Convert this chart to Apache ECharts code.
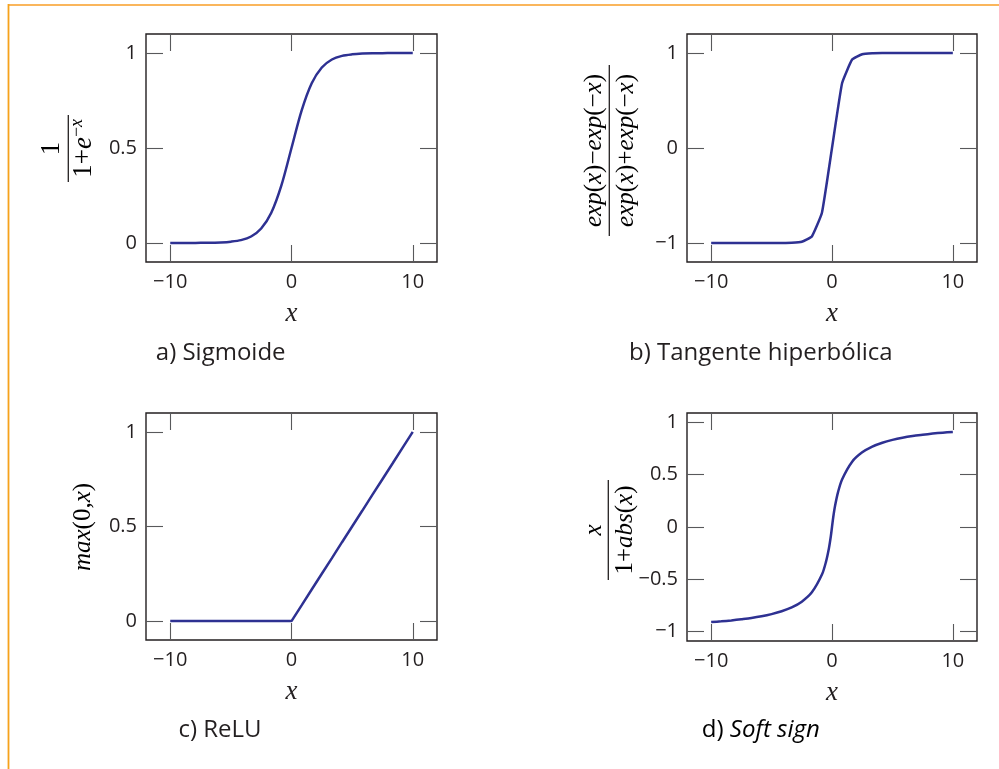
<!DOCTYPE html>
<html>
<head>
<meta charset="utf-8">
<script src="https://cdn.jsdelivr.net/npm/echarts@6/dist/echarts.min.js"></script>
<style>
html,body{margin:0;padding:0;background:#fff;}
#main{width:999px;height:769px;}
</style>
</head>
<body>
<div id="main"></div>
<script>
// ---- data ----
const xSamples = [-10, -9.167, -8.333, -7.5, -6.667, -5.833, -5, -4.167, -3.333, -2.5, -1.667, -0.833, 0,
  0.833, 1.667, 2.5, 3.333, 4.167, 5, 5.833, 6.667, 7.5, 8.333, 9.167, 10];
const sigmoidValues = [0.000, 0.000, 0.000, 0.001, 0.001, 0.003, 0.007, 0.015, 0.034, 0.076, 0.159, 0.303, 0.5,
  0.697, 0.841, 0.924, 0.966, 0.985, 0.993, 0.997, 0.999, 0.999, 1.000, 1.000, 1.000];
const tanhValues = [-1.000, -1.000, -1.000, -1.000, -1.000, -1.000, -1.000, -0.999, -0.997, -0.987, -0.931, -0.682, 0,
  0.682, 0.931, 0.987, 0.997, 0.999, 1.000, 1.000, 1.000, 1.000, 1.000, 1.000, 1.000];
const reluValues = [0, 0, 0, 0, 0, 0, 0, 0, 0, 0, 0, 0, 0,
  0.083, 0.167, 0.25, 0.333, 0.417, 0.5, 0.583, 0.667, 0.75, 0.833, 0.917, 1.0];
const softsignX = [-10, -9.167, -8.333, -7.5, -6.667, -5.833, -5, -4.167, -3.333, -2.5, -1.667, -0.833, -0.5, -0.25, -0.1, 0,
  0.1, 0.25, 0.5, 0.833, 1.667, 2.5, 3.333, 4.167, 5, 5.833, 6.667, 7.5, 8.333, 9.167, 10];
const softsignValues = [-0.909, -0.902, -0.893, -0.882, -0.870, -0.854, -0.833, -0.806, -0.769, -0.714, -0.625, -0.455, -0.333, -0.2, -0.091, 0,
  0.091, 0.2, 0.333, 0.455, 0.625, 0.714, 0.769, 0.806, 0.833, 0.854, 0.870, 0.882, 0.893, 0.902, 0.909];

const xTicks = [-10, 0, 10];
const yTicksUnit = [0, 0.5, 1];
const yTicksSym = [-1, 0, 1];
const yTicksSoft = [-1, -0.5, 0, 0.5, 1];
const captions = ['a) Sigmoide', 'b) Tangente hiperbólica', 'c) ReLU', 'd) Soft sign'];

// ---- styling ----
const TEXT = '#231f20';
const FRAME = '#231f20';
const TICK = '#58595b';
const LINE = '#2e3192';
const SANS = '"Open Sans", "Noto Sans", sans-serif';
const SERIF = '"Liberation Serif", "DejaVu Serif", serif';

function pair(arrX, arrY) { return arrX.map((x, i) => [x, arrY[i]]); }
function fmt(v) { return String(v).replace('-', '\u2212'); }

const panels = [
  { grid: { left: 146, top: 34, width: 291, height: 228 }, ymin: -0.1, ymax: 1.1, yt: yTicksUnit, data: pair(xSamples, sigmoidValues), smooth: 0.3 },
  { grid: { left: 687, top: 34, width: 290, height: 228 }, ymin: -1.2, ymax: 1.2, yt: yTicksSym, data: pair(xSamples, tanhValues), smooth: 0.12 },
  { grid: { left: 146, top: 413, width: 291, height: 227 }, ymin: -0.1, ymax: 1.1, yt: yTicksUnit, data: pair(xSamples, reluValues), smooth: false },
  { grid: { left: 687, top: 413, width: 290, height: 228 }, ymin: -1.09, ymax: 1.09, yt: yTicksSoft, data: pair(softsignX, softsignValues), smooth: 0.3 }
];

const grids = [], xAxes = [], yAxes = [], series = [];
panels.forEach((p, i) => {
  grids.push(Object.assign({ show: true, borderColor: FRAME, borderWidth: 1.4, backgroundColor: 'transparent', containLabel: false }, p.grid));
  const tickStyle = { show: true, inside: true, length: 17, lineStyle: { color: TICK, width: 1.1 } };
  const noLine = { show: false, onZero: false };
  // bottom x axis
  xAxes.push({
    type: 'value', gridIndex: i, position: 'bottom', min: -12, max: 12,
    axisLine: noLine, splitLine: { show: false },
    axisTick: Object.assign({ customValues: xTicks }, tickStyle),
    axisLabel: { customValues: xTicks, formatter: fmt, color: TEXT, fontFamily: SANS, fontSize: 20, margin: 10 },
    name: 'x', nameLocation: 'middle', nameGap: 38,
    nameTextStyle: { fontFamily: SERIF, fontStyle: 'italic', fontSize: 27, color: TEXT }
  });
  // top x axis (mirror ticks)
  xAxes.push({
    type: 'value', gridIndex: i, position: 'top', min: -12, max: 12,
    axisLine: noLine, splitLine: { show: false },
    axisTick: Object.assign({ customValues: xTicks }, tickStyle),
    axisLabel: { show: false }
  });
  yAxes.push({
    type: 'value', gridIndex: i, position: 'left', min: p.ymin, max: p.ymax,
    axisLine: noLine, splitLine: { show: false },
    axisTick: Object.assign({ customValues: p.yt }, tickStyle),
    axisLabel: { customValues: p.yt, formatter: fmt, color: TEXT, fontFamily: SANS, fontSize: 20, margin: 9 }
  });
  yAxes.push({
    type: 'value', gridIndex: i, position: 'right', min: p.ymin, max: p.ymax,
    axisLine: noLine, splitLine: { show: false },
    axisTick: Object.assign({ customValues: p.yt }, tickStyle),
    axisLabel: { show: false }
  });
  series.push({
    type: 'line', xAxisIndex: i * 2, yAxisIndex: i * 2, data: p.data,
    showSymbol: false, smooth: p.smooth,
    lineStyle: { color: LINE, width: 2.5 }, silent: true
  });
});

const mathRich = {
  r: { fontFamily: SERIF, fontSize: 27, color: TEXT, lineHeight: 32 },
  i: { fontFamily: SERIF, fontSize: 27, fontStyle: 'italic', color: TEXT, lineHeight: 32 },
  s: { fontFamily: SERIF, fontSize: 18, color: TEXT, lineHeight: 18, verticalAlign: 'top' },
  si: { fontFamily: SERIF, fontSize: 18, fontStyle: 'italic', color: TEXT, lineHeight: 18, verticalAlign: 'top' }
};
const mathRichB = {
  r: { fontFamily: SERIF, fontSize: 25, color: TEXT, lineHeight: 30 },
  i: { fontFamily: SERIF, fontSize: 25, fontStyle: 'italic', color: TEXT, lineHeight: 30 }
};

function mathText(txt, x, y, rich) {
  return { type: 'text', x: x, y: y, style: { text: txt, rich: rich || mathRich, align: 'center', verticalAlign: 'middle' } };
}
function fraction(cx, cy, halfLen, num, den, offNum, offDen, rich) {
  return {
    type: 'group', x: cx, y: cy, rotation: Math.PI / 2,
    children: [
      mathText(num, 0, -offNum, rich),
      { type: 'line', shape: { x1: -halfLen, y1: 0, x2: halfLen, y2: 0 }, style: { stroke: TEXT, lineWidth: 1.3 } },
      mathText(den, 0, offDen, rich)
    ]
  };
}

const captionStyle = { fill: TEXT, font: '24px ' + SANS, align: 'center', verticalAlign: 'middle' };

const graphic = [
  { type: 'line', shape: { x1: 8, y1: 5, x2: 999, y2: 5 }, style: { stroke: '#fab65c', lineWidth: 2 } },
  { type: 'line', shape: { x1: 8.5, y1: 4, x2: 8.5, y2: 769 }, style: { stroke: '#f6a21c', lineWidth: 1.8 } },
  fraction(68.3, 148.4, 33.5, '{r|1}', '{r|1+}{i|e}{s|\u2212}{si|x}', 16, 16),
  fraction(609.3, 150.5, 85.5, '{i|exp}{r|(}{i|x}{r|)\u2212}{i|exp}{r|(\u2212}{i|x}{r|)}', '{i|exp}{r|(}{i|x}{r|)+}{i|exp}{r|(\u2212}{i|x}{r|)}', 15, 17, mathRichB),
  { type: 'group', x: 83, y: 527, rotation: Math.PI / 2, children: [ mathText('{i|max}{r|(0,}{i|x}{r|)}', 0, 0, mathRichB) ] },
  fraction(608.3, 530, 50, '{i|x}', '{r|1+}{i|abs}{r|(}{i|x}{r|)}', 14, 17, mathRichB),
  { type: 'text', x: 220.7, y: 352.7, style: Object.assign({ text: captions[0] }, captionStyle) },
  { type: 'text', x: 760.8, y: 352.7, style: Object.assign({ text: captions[1] }, captionStyle) },
  { type: 'text', x: 220, y: 730, style: Object.assign({ text: captions[2] }, captionStyle) },
  { type: 'text', x: 760.8, y: 730, style: {
      text: '{n|d) }{it|Soft sign}', align: 'center', verticalAlign: 'middle',
      rich: { n: { fontFamily: SANS, fontSize: 24, color: TEXT }, it: { fontFamily: SANS, fontSize: 24, fontStyle: 'italic', color: TEXT } } } }
];

const chart = echarts.init(document.getElementById('main'), null, { renderer: 'canvas' });
chart.setOption({
  animation: false,
  backgroundColor: '#ffffff',
  grid: grids, xAxis: xAxes, yAxis: yAxes, series: series, graphic: graphic
});
</script>
</body>
</html>
